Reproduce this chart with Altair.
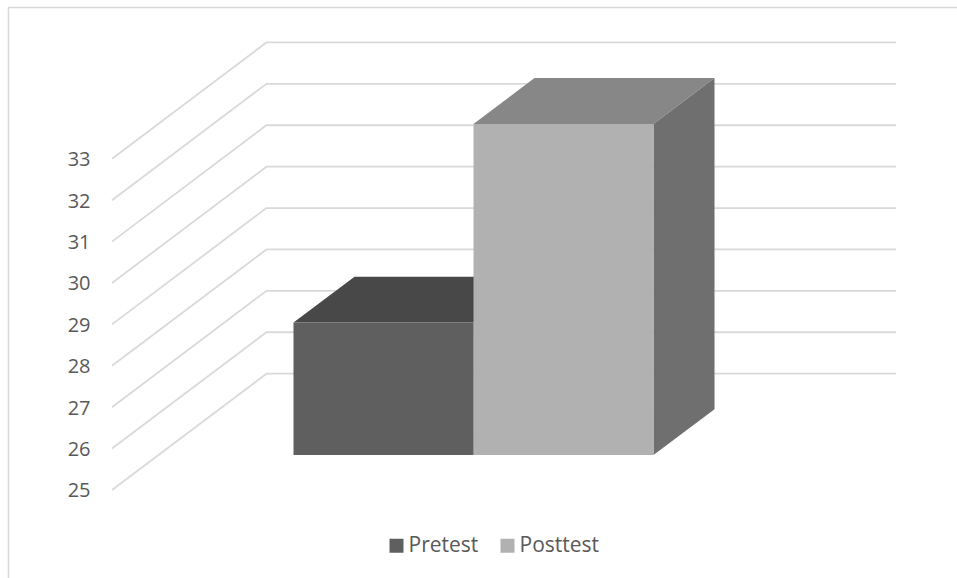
import altair as alt
import pandas as pd

# Scores and axis labels
categories = ["Pretest", "Posttest"]
scores = [28.2, 33.0]
ticks = [25, 26, 27, 28, 29, 30, 31, 32, 33]
front_colors = ["#5F5F5F", "#B1B1B1"]
top_colors = ["#484848", "#878787"]
side_colors = ["#3C3C3C", "#6F6F6F"]

# Oblique projection, in axis units: one unit of depth moves a point this far
DEPTH_U = 0.858
DEPTH_V = 2.81
BAR_FRONT = 0.30
BAR_BACK = 0.695
BASE = 25
WALL_LEFT = -1.0083
WALL_RIGHT = 3.347

x_scale = alt.Scale(domain=[-1.0083, 3.686], range=[0, 845], nice=False, zero=False)
y_scale = alt.Scale(domain=[22.874, 36.836], range=[578, 0], nice=False, zero=False)
GRID = "#D9D9D9"

# Every layer shares one value axis definition so that the labels survive merging
y_axis = alt.Axis(
    values=ticks,
    domain=False,
    ticks=False,
    grid=False,
    title=None,
    labelPadding=22,
    labelOffset=1,
    labelFont="Open Sans",
    labelFontSize=20,
    labelColor="#595959",
)

# Floor-to-wall grid lines
grid_rows = []
for t in ticks:
    grid_rows += [
        {"tick": t, "u": WALL_LEFT, "v": t, "o": 0},
        {"tick": t, "u": WALL_LEFT + DEPTH_U, "v": t + DEPTH_V, "o": 1},
        {"tick": t, "u": WALL_RIGHT, "v": t + DEPTH_V, "o": 2},
    ]
grid = alt.Chart(pd.DataFrame(grid_rows)).mark_line(color=GRID, strokeWidth=1.8).encode(
    x=alt.X("u:Q", scale=x_scale, axis=None),
    y=alt.Y("v:Q", scale=y_scale, axis=y_axis),
    detail="tick:N",
    order="o:Q",
)

span = BAR_BACK - BAR_FRONT
layers = [grid]
front_rows = []
for i, (name, score) in enumerate(zip(categories, scores)):
    u0, u1 = float(i), float(i + 1)
    base = BASE + BAR_FRONT * DEPTH_V
    top = score + BAR_FRONT * DEPTH_V
    front_rows.append({"series": name, "u": u0, "u2": u1, "v": base, "v2": top})

    # Top face: horizontal edges at the front and back of the column
    top_face = pd.DataFrame(
        [
            {"v": top, "a": u0, "b": u1},
            {"v": top + span * DEPTH_V, "a": u0 + span * DEPTH_U, "b": u1 + span * DEPTH_U},
        ]
    )
    layers.append(
        alt.Chart(top_face)
        .mark_area(orient="horizontal", color=top_colors[i])
        .encode(
            x=alt.X("a:Q", scale=x_scale, axis=None),
            x2="b:Q",
            y=alt.Y("v:Q", scale=y_scale, axis=y_axis),
        )
    )

    # Side face: vertical edges at the front and back of the column
    side_face = pd.DataFrame(
        [
            {"u": u1, "low": base, "high": top},
            {"u": u1 + span * DEPTH_U, "low": base + span * DEPTH_V, "high": top + span * DEPTH_V},
        ]
    )
    layers.append(
        alt.Chart(side_face)
        .mark_area(color=side_colors[i])
        .encode(
            x=alt.X("u:Q", scale=x_scale, axis=None),
            y=alt.Y("low:Q", scale=y_scale, axis=y_axis),
            y2="high:Q",
        )
    )

# Front faces carry the legend
front = (
    alt.Chart(pd.DataFrame(front_rows))
    .mark_rect()
    .encode(
        x=alt.X("u:Q", scale=x_scale, axis=None),
        x2="u2:Q",
        y=alt.Y("v:Q", scale=y_scale, axis=y_axis),
        y2="v2:Q",
        color=alt.Color(
            "series:N",
            scale=alt.Scale(domain=categories, range=front_colors),
            legend=alt.Legend(
                title=None,
                orient="none",
                legendX=274,
                legendY=535,
                direction="horizontal",
                columns=2,
                padding=0,
                columnPadding=18,
                symbolType="square",
                symbolSize=196,
                symbolStrokeWidth=0,
                labelOffset=1.5,
                labelFont="Open Sans",
                labelFontSize=21,
                labelColor="#595959",
            ),
        ),
    )
)
layers.append(front)

# Frame around the chart, open on the right and at the bottom
frame_left = alt.Chart(pd.DataFrame({"k": [0]})).mark_rule(color=GRID, strokeWidth=1.5).encode(
    x=alt.value(-103.5), y=alt.value(7), y2=alt.value(578)
)
frame_top = alt.Chart(pd.DataFrame({"k": [0]})).mark_rule(color=GRID, strokeWidth=1.5).encode(
    x=alt.value(-104), x2=alt.value(845), y=alt.value(7.5)
)

chart = (
    alt.layer(grid, frame_left, frame_top, *layers[1:])
    .properties(
        width=845,
        height=578,
        padding={"left": 112, "top": 0, "right": 0, "bottom": 0},
        autosize=alt.AutoSizeParams(type="none"),
        background="white",
    )
    .configure_view(stroke=None)
)

chart.save("out.html", embed_options={"renderer": "svg", "actions": False})
